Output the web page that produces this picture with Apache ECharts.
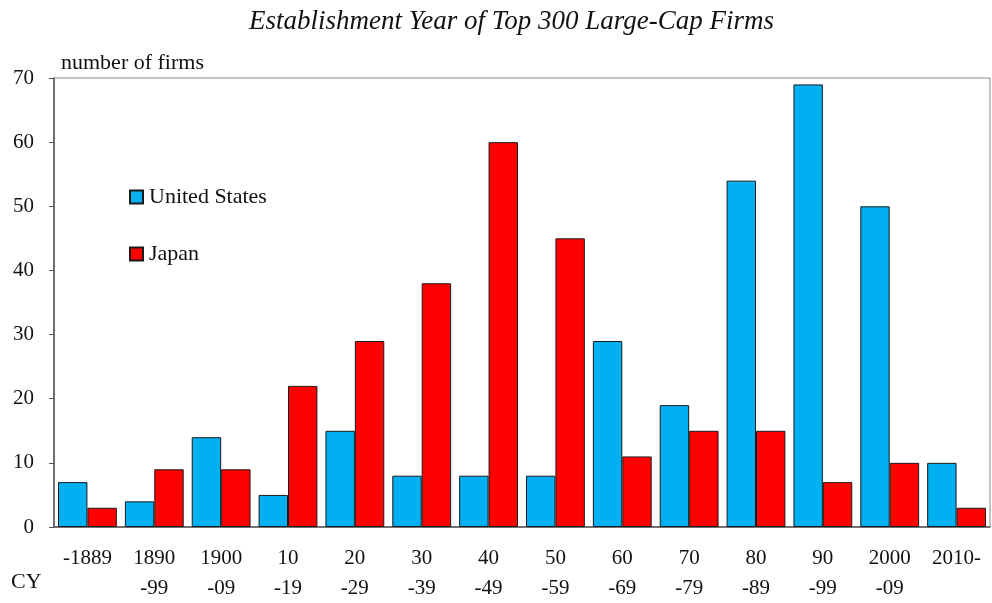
<!DOCTYPE html>
<html>
<head>
<meta charset="utf-8">
<script src="https://cdn.jsdelivr.net/npm/echarts@6/dist/echarts.min.js"></script>
<style>
  html, body { margin: 0; padding: 0; background: #fff; }
  #chart { width: 992px; height: 603px; }
</style>
</head>
<body>
<div id="chart"></div>
<script>
const categories = ['-1889', '1890\n-99', '1900\n-09', '10\n-19', '20\n-29', '30\n-39', '40\n-49',
  '50\n-59', '60\n-69', '70\n-79', '80\n-89', '90\n-99', '2000\n-09', '2010-']
const usFirms = [7, 4, 14, 5, 15, 8, 8, 8, 29, 19, 54, 69, 50, 10]
const japanFirms = [3, 9, 9, 22, 29, 38, 60, 45, 11, 15, 15, 7, 10, 3]
const yTicks = { min: 0, max: 70, interval: 10 }

const serif = '"Liberation Serif", "DejaVu Serif", serif'
const chart = echarts.init(document.getElementById('chart'))

const barStyle = color => ({ color, borderColor: '#1a1a1a', borderWidth: 1 })

chart.setOption({
  animation: false,
  backgroundColor: '#fff',
  textStyle: { fontFamily: serif, color: '#111' },
  title: [
    {
      text: 'Establishment Year of Top 300 Large-Cap Firms',
      left: 244, top: 3,
      textStyle: { fontFamily: serif, fontStyle: 'italic', fontWeight: 'normal', fontSize: 27, color: '#111' }
    },
    {
      text: 'number of firms',
      left: 56, top: 47,
      textStyle: { fontFamily: serif, fontWeight: 'normal', fontSize: 22, color: '#111' }
    },
    {
      text: 'CY',
      left: 6, top: 566,
      textStyle: { fontFamily: serif, fontWeight: 'normal', fontSize: 22, color: '#111' }
    }
  ],
  legend: {
    orient: 'vertical',
    left: 124, top: 181,
    itemWidth: 13, itemHeight: 13,
    itemGap: 35,
    icon: 'rect',
    textStyle: { fontFamily: serif, fontSize: 22, color: '#111', padding: [0, 0, 0, 1] },
    data: ['United States', 'Japan']
  },
  grid: {
    left: 54, right: 2, top: 78, bottom: 72,
    show: true, borderColor: '#8a8a8a', borderWidth: 1
  },
  xAxis: {
    type: 'category',
    data: categories,
    axisLine: { lineStyle: { color: '#555', width: 1.5 } },
    axisTick: { inside: true, length: 6, lineStyle: { color: '#555' } },
    axisLabel: { fontFamily: serif, fontSize: 21, color: '#111', lineHeight: 30, margin: 16, interval: 0 }
  },
  yAxis: {
    type: 'value',
    min: yTicks.min, max: yTicks.max, interval: yTicks.interval,
    axisLine: { show: true, lineStyle: { color: '#555', width: 1.5 } },
    axisTick: { show: true, length: 5, lineStyle: { color: '#555' } },
    axisLabel: { fontFamily: serif, fontSize: 21, color: '#111', margin: 20 },
    splitLine: { show: false }
  },
  series: [
    {
      name: 'United States', type: 'bar', data: usFirms,
      barGap: '0%', barCategoryGap: '12%',
      itemStyle: barStyle('#00b0f0')
    },
    {
      name: 'Japan', type: 'bar', data: japanFirms,
      barGap: '0%', barCategoryGap: '12%',
      itemStyle: barStyle('#ff0000')
    }
  ]
})
</script>
</body>
</html>
